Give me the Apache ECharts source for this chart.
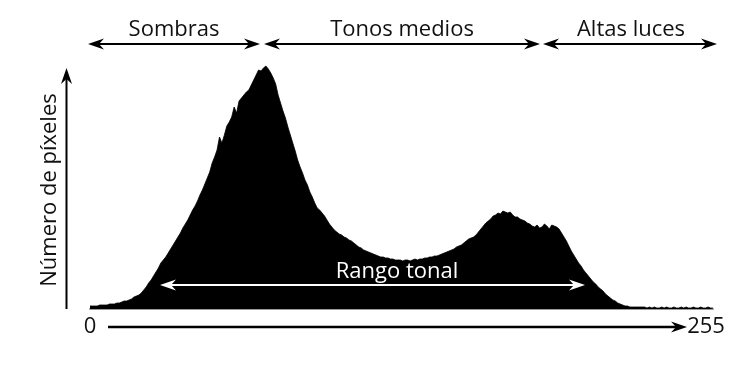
<!DOCTYPE html>
<html>
<head>
<meta charset="utf-8">
<script src="https://cdn.jsdelivr.net/npm/echarts@6/dist/echarts.min.js"></script>
<style>html,body{margin:0;padding:0;background:#fff}#c{width:750px;height:375px}</style>
</head>
<body>
<div id="c"></div>
<script>
// Tonal bins 0..255
const bins = Array.from({length: 256}, (_, i) => i);
// Pixel counts per bin (relative units)
const counts = [
  3,3,3,3,4,4,4,4,5,5,
  5,6,6,7,8,8,9,10,12,13,
  14,16,19,22,26,29,33,37,41,46,
  49,52,56,60,64,68,72,76,81,85,
  89,94,99,103,108,114,119,125,131,137,
  146,152,159,172,166,174,183,187,192,202,
  196,208,211,214,217,219,224,229,234,239,
  238,241,243,240,236,231,225,214,206,198,
  191,182,174,166,158,149,142,136,129,124,
  117,112,106,101,99,96,93,89,85,82,
  79,77,75,74,72,71,69,68,66,64,
  62,61,59,58,57,56,55,54,53,52,
  52,51,51,50,50,49,49,49,48,49,
  49,48,49,50,49,50,50,51,51,52,
  52,53,53,54,55,56,57,58,59,60,
  62,63,64,66,68,70,71,72,74,77,
  80,83,86,88,90,93,94,96,95,98,
  97,96,97,94,92,92,90,89,88,86,
  85,83,82,84,81,82,85,83,80,84,
  83,82,80,76,72,68,63,58,54,50,
  46,43,39,36,33,30,27,25,22,20,
  18,15,13,11,9,8,6,5,4,3,
  3,2,2,2,2,2,2,2,1,2,
  1,2,1,1,2,1,2,1,1,2,1,1,2,1,2,1,1,2,1,1,2,1,1,2,1,1
];
const tickLabels = ['0', '255'];
const zoneLabels = ['Sombras', 'Tonos medios', 'Altas luces'];
const yTitle = 'Número de píxeles';
const rangeLabel = 'Rango tonal';

const FONT = '"Open Sans", "DejaVu Sans", sans-serif';

function arrowHead(x, y, dir, color) {
  // dir: 1 = pointing right, -1 = left, 'up'
  let pts;
  if (dir === 'up') {
    pts = [[x, y], [x - 5.5, y + 16], [x, y + 11], [x + 5.5, y + 16]];
  } else {
    pts = [[x, y], [x - dir * 16, y - 5.5], [x - dir * 11, y], [x - dir * 16, y + 5.5]];
  }
  return { type: 'polygon', shape: { points: pts }, style: { fill: color }, z: 100 };
}
function hArrow(x1, x2, y, color, both, w) {
  const els = [{
    type: 'line', shape: { x1: both ? x1 + 8 : x1, y1: y, x2: x2 - 8, y2: y },
    style: { stroke: color, lineWidth: w || 2 }, z: 100
  }, arrowHead(x2, y, 1, color)];
  if (both) els.push(arrowHead(x1, y, -1, color));
  return els;
}
function txt(t, x, y, color, rot) {
  return {
    type: 'text', x: x, y: y, rotation: rot || 0, z: 101,
    style: { text: t, fill: color, font: '22px ' + FONT, textAlign: 'center', textVerticalAlign: 'middle' }
  };
}

const chart = echarts.init(document.getElementById('c'), null, { renderer: 'canvas' });
const graphics = [].concat(
  hArrow(88, 260, 44, '#000', true),
  hArrow(264, 540, 44, '#000', true),
  hArrow(543, 717, 44, '#000', true),
  [txt(zoneLabels[0], 174, 30, '#111'), txt(zoneLabels[1], 402, 30, '#111'), txt(zoneLabels[2], 631, 30, '#111')],
  [{ type: 'line', shape: { x1: 66.5, y1: 309, x2: 66.5, y2: 78 }, style: { stroke: '#000', lineWidth: 2 }, z: 100 },
   arrowHead(66.5, 68, 'up', '#000'),
   txt(yTitle, 50, 190, '#111', Math.PI / 2)],
  hArrow(108, 687, 327, '#000', false, 2.5),
  [txt(tickLabels[0], 90, 327, '#111'), txt(tickLabels[1], 706, 327, '#111')],
  hArrow(160, 585, 285, '#fff', true),
  [txt(rangeLabel, 397, 272, '#fff')]
);

chart.setOption({
  animation: false,
  backgroundColor: '#fff',
  grid: { left: 90, right: 37, top: 59, bottom: 66 },
  xAxis: {
    type: 'category', data: bins, boundaryGap: false,
    axisLine: { show: true, lineStyle: { color: '#9a9a9a', width: 2 } },
    axisTick: { show: false }, axisLabel: { show: false }, splitLine: { show: false }
  },
  yAxis: {
    type: 'value', min: 0, max: 250,
    axisLine: { show: false }, axisTick: { show: false }, axisLabel: { show: false }, splitLine: { show: false }
  },
  series: [{
    type: 'line', data: counts, showSymbol: false, smooth: false,
    lineStyle: { color: '#000', width: 0.8 },
    areaStyle: { color: '#000', opacity: 1 },
    z: 2
  }],
  graphic: graphics
});
</script>
</body>
</html>
